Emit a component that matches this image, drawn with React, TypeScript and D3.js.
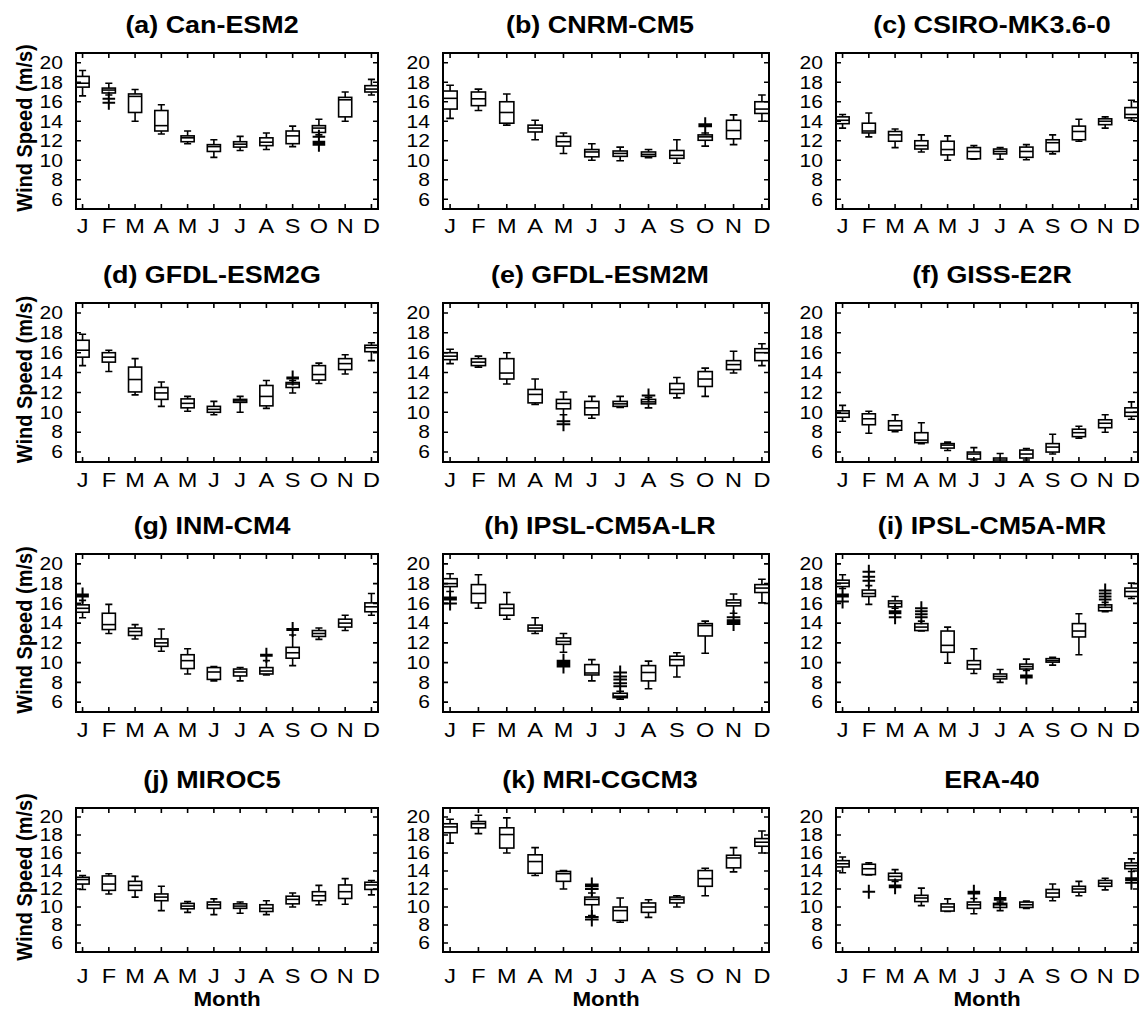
import * as d3 from "d3";

// lo whisker, q1, median, q3, hi whisker
type Box = [number, number, number, number, number];
// [month (1-12), value]
type Outlier = [number, number];

const months = ["J", "F", "M", "A", "M", "J", "J", "A", "S", "O", "N", "D"];
const yTicks = [6, 8, 10, 12, 14, 16, 18, 20];

const canEsm2: Box[] = [
  [16.6, 17.5, 17.9, 18.6, 19.2], [16.7, 16.9, 17.2, 17.4, 17.9], [14.0, 14.9, 16.55, 16.8, 17.25],
  [12.7, 13.0, 13.55, 15.1, 15.7], [11.7, 11.9, 12.3, 12.5, 13.0], [10.3, 10.9, 11.4, 11.6, 12.1],
  [11.0, 11.35, 11.65, 11.9, 12.45], [11.1, 11.5, 11.85, 12.3, 12.8], [11.4, 11.7, 12.5, 13.0, 13.5],
  [12.6, 12.85, 13.3, 13.55, 14.2], [14.0, 14.45, 16.2, 16.45, 17.0], [16.7, 17.0, 17.3, 17.65, 18.3],
];
const canEsm2Out: Outlier[] = [[2, 16.3], [2, 15.9], [10, 12.4], [10, 11.9], [10, 11.8], [10, 11.6]];

const cnrmCm5: Box[] = [
  [14.3, 15.25, 16.35, 17.1, 17.7], [15.1, 15.6, 16.3, 17.0, 17.3], [13.6, 13.8, 14.9, 16.0, 16.8],
  [12.1, 12.9, 13.3, 13.6, 14.1], [10.7, 11.45, 11.9, 12.45, 12.8], [10.0, 10.35, 10.85, 11.1, 11.7],
  [9.95, 10.4, 10.7, 10.95, 11.35], [10.25, 10.4, 10.6, 10.85, 11.1], [9.7, 10.2, 10.5, 11.0, 12.1],
  [11.45, 12.05, 12.4, 12.6, 12.8], [11.6, 12.2, 13.05, 14.1, 14.65], [14.0, 14.8, 15.25, 16.0, 16.7],
];
const cnrmCm5Out: Outlier[] = [[10, 13.7], [10, 13.5]];

const csiroMk36: Box[] = [
  [13.3, 13.75, 14.1, 14.45, 14.7], [12.4, 12.8, 13.0, 13.8, 14.85], [11.3, 11.95, 12.6, 12.95, 13.2],
  [10.85, 11.15, 11.5, 12.0, 12.6], [10.0, 10.55, 11.1, 11.95, 12.5], [10.1, 10.15, 10.9, 11.3, 11.5],
  [10.1, 10.65, 10.9, 11.15, 11.3], [10.05, 10.3, 10.9, 11.35, 11.6], [10.65, 10.9, 11.8, 12.1, 12.6],
  [11.95, 12.1, 12.95, 13.5, 14.2], [13.3, 13.65, 14.0, 14.25, 14.45], [14.1, 14.35, 14.7, 15.4, 16.15],
];
const csiroMk36Out: Outlier[] = [];

const gfdlEsm2g: Box[] = [
  [14.7, 15.55, 16.25, 17.25, 17.85], [14.1, 15.05, 15.55, 16.0, 16.25], [11.75, 12.05, 13.3, 14.55, 15.4],
  [10.6, 11.3, 11.95, 12.5, 13.05], [10.1, 10.45, 10.9, 11.35, 11.6], [9.75, 10.0, 10.3, 10.6, 11.1],
  [10.0, 11.0, 11.15, 11.3, 11.6], [10.4, 10.65, 11.6, 12.7, 13.2], [11.95, 12.5, 12.85, 13.0, 13.2],
  [12.9, 13.25, 13.8, 14.7, 14.95], [13.85, 14.3, 14.9, 15.4, 15.8], [15.2, 16.1, 16.5, 16.75, 17.0],
];
const gfdlEsm2gOut: Outlier[] = [[9, 13.5], [9, 13.4]];

const gfdlEsm2m: Box[] = [
  [14.9, 15.3, 15.65, 16.0, 16.35], [14.55, 14.7, 15.05, 15.4, 15.65], [12.85, 13.35, 13.95, 15.4, 16.0],
  [10.8, 10.95, 11.8, 12.3, 13.35], [9.75, 10.35, 10.9, 11.3, 12.05], [9.4, 9.75, 10.45, 11.1, 11.6],
  [10.5, 10.6, 10.85, 11.1, 11.6], [10.45, 10.85, 11.05, 11.3, 11.5], [11.45, 11.9, 12.3, 12.9, 13.5],
  [11.6, 12.6, 13.35, 14.1, 14.45], [13.95, 14.3, 14.8, 15.2, 16.15], [14.7, 15.2, 16.0, 16.4, 16.9],
];
const gfdlEsm2mOut: Outlier[] = [[5, 9.1], [5, 8.8], [8, 11.7]];

const gissE2r: Box[] = [
  [9.1, 9.5, 9.9, 10.15, 10.7], [7.9, 8.75, 9.35, 9.85, 10.1], [8.05, 8.2, 8.65, 9.15, 9.75],
  [6.85, 6.95, 7.2, 7.95, 8.95], [6.15, 6.4, 6.7, 6.85, 7.0], [5.2, 5.3, 5.8, 6.0, 6.45],
  [4.9, 5.0, 5.2, 5.4, 5.85], [5.2, 5.4, 5.8, 6.2, 6.35], [5.8, 6.0, 6.5, 6.85, 7.8],
  [7.4, 7.55, 7.95, 8.3, 8.6], [8.0, 8.45, 8.9, 9.25, 9.75], [9.3, 9.6, 10.0, 10.45, 11.05],
];
const gissE2rOut: Outlier[] = [];

const inmCm4: Box[] = [
  [14.55, 15.1, 15.5, 15.85, 16.3], [12.95, 13.35, 13.85, 15.0, 15.9], [12.4, 12.75, 13.15, 13.5, 13.85],
  [11.15, 11.65, 12.0, 12.4, 13.4], [8.85, 9.4, 10.2, 10.8, 11.4], [8.15, 8.3, 9.05, 9.5, 9.6],
  [8.15, 8.65, 9.05, 9.35, 9.5], [8.75, 8.85, 9.15, 9.5, 10.2], [9.7, 10.45, 11.0, 11.55, 12.8],
  [12.35, 12.65, 12.95, 13.25, 13.5], [13.25, 13.6, 14.0, 14.4, 14.8], [14.8, 15.15, 15.65, 16.05, 17.0],
];
const inmCm4Out: Outlier[] = [[1, 16.9], [1, 16.7], [8, 10.8], [8, 10.7], [9, 13.4], [9, 13.3]];

const ipslLr: Box[] = [
  [17.2, 17.7, 18.0, 18.5, 19.0], [15.5, 16.05, 17.0, 17.9, 18.9], [14.4, 14.8, 15.5, 15.9, 17.1],
  [12.95, 13.2, 13.5, 13.8, 14.55], [11.05, 11.85, 12.15, 12.5, 12.95], [8.15, 8.75, 8.95, 9.8, 10.3],
  [6.3, 6.45, 6.6, 6.9, 7.1], [7.35, 8.15, 9.0, 9.7, 10.15], [8.55, 9.7, 10.3, 10.65, 11.0],
  [10.95, 12.7, 13.75, 13.95, 14.2], [15.0, 15.75, 16.05, 16.35, 16.95], [16.05, 17.1, 17.55, 17.9, 18.45],
];
const ipslLrOut: Outlier[] = [
  [1, 16.6], [1, 16.4], [1, 16.0], [5, 10.2], [5, 10.0], [5, 9.8], [5, 9.6],
  [7, 9.0], [7, 8.6], [7, 8.3], [7, 7.9], [7, 7.6], [11, 14.6], [11, 14.3], [11, 14.1], [11, 13.9],
];

const ipslMr: Box[] = [
  [17.5, 17.7, 18.05, 18.35, 18.9], [15.9, 16.7, 17.0, 17.35, 17.8], [15.5, 15.65, 16.0, 16.25, 16.7],
  [13.2, 13.25, 13.6, 13.95, 14.2], [9.95, 11.05, 11.75, 13.2, 13.6], [8.9, 9.35, 9.8, 10.2, 11.4],
  [8.0, 8.35, 8.6, 8.85, 9.3], [9.2, 9.35, 9.6, 9.85, 10.35], [9.75, 10.05, 10.2, 10.4, 10.55],
  [10.8, 12.6, 13.2, 13.95, 14.95], [15.15, 15.25, 15.6, 15.85, 16.1], [16.5, 16.7, 17.2, 17.55, 18.05],
];
const ipslMrOut: Outlier[] = [
  [1, 16.9], [1, 16.7], [1, 16.2], [2, 19.2], [2, 18.7], [2, 18.3], [3, 15.2], [3, 15.0], [3, 14.6],
  [4, 15.5], [4, 15.2], [4, 14.9], [4, 14.6], [8, 8.7], [8, 8.5],
  [11, 17.3], [11, 17.0], [11, 16.7], [11, 16.4],
];

const miroc5: Box[] = [
  [11.95, 12.55, 13.05, 13.3, 13.5], [11.45, 11.85, 12.55, 13.45, 13.7], [11.1, 11.85, 12.4, 12.85, 13.4],
  [9.6, 10.7, 11.1, 11.45, 12.3], [9.4, 9.8, 10.1, 10.4, 10.6], [9.15, 9.85, 10.25, 10.55, 10.9],
  [9.3, 9.85, 10.1, 10.35, 10.55], [9.15, 9.5, 9.85, 10.25, 10.7], [10.0, 10.35, 10.85, 11.2, 11.55],
  [10.25, 10.7, 11.25, 11.7, 12.4], [10.3, 10.95, 11.7, 12.45, 13.15], [11.35, 11.95, 12.45, 12.75, 12.95],
];
const miroc5Out: Outlier[] = [];

const mriCgcm3: Box[] = [
  [17.1, 18.25, 18.9, 19.25, 19.75], [18.15, 18.8, 19.25, 19.5, 20.2], [16.0, 16.55, 18.05, 18.8, 19.9],
  [13.5, 13.75, 15.05, 15.8, 16.6], [12.0, 12.85, 13.7, 13.95, 14.05], [9.05, 10.25, 10.85, 11.1, 11.55],
  [8.3, 8.5, 9.6, 10.0, 11.0], [8.85, 9.4, 10.0, 10.45, 10.8], [10.0, 10.45, 10.85, 11.1, 11.25],
  [11.25, 12.3, 13.15, 14.05, 14.3], [13.9, 14.35, 15.45, 15.75, 16.6], [16.0, 16.75, 17.2, 17.6, 18.45],
];
const mriCgcm3Out: Outlier[] = [[6, 12.5], [6, 12.3], [6, 12.0], [6, 8.9], [6, 8.6]];

const era40: Box[] = [
  [13.8, 14.45, 14.8, 15.15, 15.55], [13.55, 13.6, 14.25, 14.75, 14.9], [12.85, 13.0, 13.4, 13.75, 14.15],
  [10.15, 10.6, 11.0, 11.3, 12.1], [9.5, 9.55, 10.0, 10.35, 10.9], [9.25, 9.85, 10.25, 10.55, 10.95],
  [9.6, 9.95, 10.25, 10.4, 10.55], [9.85, 9.95, 10.25, 10.55, 10.65], [10.7, 11.1, 11.55, 11.95, 12.55],
  [11.25, 11.65, 12.0, 12.3, 12.85], [11.9, 12.3, 12.65, 12.95, 13.2], [13.95, 14.25, 14.6, 14.9, 15.35],
];
const era40Out: Outlier[] = [
  [2, 11.7], [3, 12.4], [3, 12.2], [6, 11.7], [6, 11.5], [7, 11.0], [7, 10.8], [12, 13.2], [12, 13.0], [12, 12.7],
];

const panels = [
  { title: "(a) Can-ESM2", boxes: canEsm2, out: canEsm2Out },
  { title: "(b) CNRM-CM5", boxes: cnrmCm5, out: cnrmCm5Out },
  { title: "(c) CSIRO-MK3.6-0", boxes: csiroMk36, out: csiroMk36Out },
  { title: "(d) GFDL-ESM2G", boxes: gfdlEsm2g, out: gfdlEsm2gOut },
  { title: "(e) GFDL-ESM2M", boxes: gfdlEsm2m, out: gfdlEsm2mOut },
  { title: "(f) GISS-E2R", boxes: gissE2r, out: gissE2rOut },
  { title: "(g) INM-CM4", boxes: inmCm4, out: inmCm4Out },
  { title: "(h) IPSL-CM5A-LR", boxes: ipslLr, out: ipslLrOut },
  { title: "(i) IPSL-CM5A-MR", boxes: ipslMr, out: ipslMrOut },
  { title: "(j) MIROC5", boxes: miroc5, out: miroc5Out },
  { title: "(k) MRI-CGCM3", boxes: mriCgcm3, out: mriCgcm3Out },
  { title: "ERA-40", boxes: era40, out: era40Out },
];

// layout
const COLS: [number, number][] = [[76, 378], [443, 769], [836, 1138]];
const ROWS: [number, number][] = [[53, 209], [303, 462], [554, 712], [808, 952]];
const TITLE_X = [212, 600, 992];
const MONTH_GAP = [24, 25, 25, 31];
const SX = 1.12; // the original text is a bit wider than tall
const FONT = "'Liberation Sans', Arial, Helvetica, sans-serif";
const TICK = 5;

function Panel({ idx }: { idx: number }) {
  const p = panels[idx];
  const col = idx % 3;
  const row = Math.floor(idx / 3);
  const [x0, x1] = COLS[col];
  const [y0, y1] = ROWS[row];

  const x = d3.scaleLinear().domain([0.75, 12.25]).range([x0, x1]);
  const y = d3.scaleLinear().domain([5, 21]).range([y1, y0]).clamp(true);
  const step = x(2) - x(1);
  const bw = step * 0.5;
  const cw = step * 0.27;
  const pw = step * 0.24;

  const boxPath = (b: Box, i: number) => {
    const cx = x(i + 1);
    const [lo, q1, , q3, hi] = b.map((v) => y(v));
    return [
      `M${cx},${q3}V${hi}M${cx - cw / 2},${hi}H${cx + cw / 2}`,
      `M${cx},${q1}V${lo}M${cx - cw / 2},${lo}H${cx + cw / 2}`,
    ].join("");
  };

  const plus = d3.path();
  p.out.forEach(([m, v]) => {
    const cx = x(m);
    const cy = y(v);
    plus.moveTo(cx - pw, cy);
    plus.lineTo(cx + pw, cy);
    plus.moveTo(cx, cy - 7);
    plus.lineTo(cx, cy + 7);
  });

  const ticks = d3.path();
  yTicks.forEach((t) => {
    ticks.moveTo(x0, y(t));
    ticks.lineTo(x0 + TICK, y(t));
    ticks.moveTo(x1, y(t));
    ticks.lineTo(x1 - TICK, y(t));
  });
  months.forEach((_, i) => {
    ticks.moveTo(x(i + 1), y1);
    ticks.lineTo(x(i + 1), y1 - TICK);
    ticks.moveTo(x(i + 1), y0);
    ticks.lineTo(x(i + 1), y0 + TICK);
  });

  return (
    <g>
      <text
        transform={`translate(${TITLE_X[col]},${y0 - 20}) scale(${SX},1)`}
        textAnchor="middle"
        fontSize={24}
        fontWeight="bold"
      >
        {p.title}
      </text>
      {yTicks.map((t) => (
        <text
          key={t}
          transform={`translate(${x0 - 13},${y(t) + 6.3}) scale(${SX + 0.05},1)`}
          textAnchor="end"
          fontSize={18}
        >
          {t}
        </text>
      ))}
      {months.map((m, i) => (
        <text
          key={i}
          transform={`translate(${x(i + 1)},${y1 + MONTH_GAP[row]}) scale(${SX},1)`}
          textAnchor="middle"
          fontSize={21}
        >
          {m}
        </text>
      ))}
      {col === 0 && (
        <text
          transform={`translate(32,${(y0 + y1) / 2 - 3}) scale(${SX},1) rotate(-90)`}
          textAnchor="middle"
          fontSize={20}
          fontWeight="bold"
        >
          Wind Speed (m/s)
        </text>
      )}
      {row === 3 && (
        <text
          transform={`translate(${(x0 + x1) / 2},1006) scale(${SX},1)`}
          textAnchor="middle"
          fontSize={20}
          fontWeight="bold"
        >
          Month
        </text>
      )}
      <g fill="none" stroke="#000" strokeWidth={1.6}>
        {p.boxes.map((b, i) => (
          <g key={i}>
            <path d={boxPath(b, i)} />
            <rect
              x={x(i + 1) - bw / 2}
              y={y(b[3])}
              width={bw}
              height={Math.max(0.5, y(b[1]) - y(b[3]))}
              fill="#fff"
            />
            <path d={`M${x(i + 1) - bw / 2},${y(b[2])}H${x(i + 1) + bw / 2}`} />
          </g>
        ))}
        <path d={plus.toString()} strokeWidth={2} />
      </g>
      <path d={ticks.toString()} stroke="#000" strokeWidth={1.6} fill="none" />
      <rect x={x0} y={y0} width={x1 - x0} height={y1 - y0} fill="none" stroke="#000" strokeWidth={2} />
    </g>
  );
}

export default function App() {
  return (
    <svg
      width={1148}
      height={1009}
      style={{ position: "absolute", left: 0, top: 0, background: "#fff" }}
      fontFamily={FONT}
    >
      <rect width={1148} height={1009} fill="#fff" />
      {panels.map((_, i) => (
        <Panel key={i} idx={i} />
      ))}
    </svg>
  );
}
